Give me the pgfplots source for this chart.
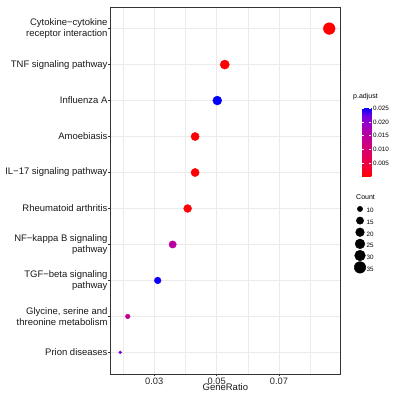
\documentclass[border=0pt]{standalone}
\usepackage{fontspec}
\setmainfont{Liberation Sans}
\usepackage{pgfplots}
\pgfplotsset{compat=1.18}
\usepackage{pgfplotstable}
\definecolor{gridc}{RGB}{235,235,235}
\definecolor{framec}{RGB}{51,51,51}

\pgfplotstableread{
pos gr count p
1 0.0191 8 0.0218
2 0.0215 9 0.0140
3 0.0311 13 0.0250
4 0.0359 15 0.0152
5 0.0407 17 0.0003
6 0.0431 18 0.0004
7 0.0431 18 0.0002
8 0.0502 21 0.0254
9 0.0526 22 0.0003
10 0.0861 36 0.00001
}\datatable

\pgfplotsset{
  sizekey/.style={only marks, mark=*, black, mark size=#1,
    legend image code/.code={%
      \path[draw=none, fill=none] (-5.8pt,-3.2pt) rectangle (5.8pt,7.9pt);
      \path[draw=none, fill=none] plot[mark=*, mark size=#1, mark options={draw=black, fill=black}] coordinates {(0pt,2.35pt)};}},
}

\begin{document}
\begin{tikzpicture}
\begin{axis}[
  name=ax, at={(0,0)}, anchor=south west,
  scale only axis, width=229.3pt, height=367pt,
  xmin=0.01603, xmax=0.08955, ymin=0.4, ymax=10.6,
  scaled x ticks=false,
  xtick={0.03,0.05,0.07}, xticklabels={0.03,0.05,0.07},
  minor xtick={0.02,0.04,0.06,0.08},
  ytick={1,2,3,4,5,6,7,8,9,10},
  yticklabels={{Prion diseases},{Glycine, serine and\\threonine metabolism},{TGF−beta signaling\\pathway},{NF−kappa B signaling\\pathway},{Rheumatoid arthritis},{IL−17 signaling pathway},{Amoebiasis},{Influenza A},{TNF signaling pathway},{Cytokine−cytokine\\receptor interaction}},
  grid=both,
  major grid style={gridc, line width=0.8pt},
  minor grid style={gridc, line width=0.5pt},
  minor tick length=0pt,
  tick align=outside, major tick length=2.2pt,
  tick style={framec, line width=0.6pt},
  xtick pos=left, ytick pos=left,
  axis line style={framec, line width=0.8pt},
  xticklabel style={font=\fontsize{9.3}{10}\selectfont, inner sep=1.3pt, text=black!85},
  yticklabel style={font=\fontsize{9.5}{10.7}\selectfont, align=right, inner sep=0.8pt, text=black!90},
  xlabel={GeneRatio},
  xlabel style={at={(axis description cs:0.5,0)}, anchor=center, yshift=-12.7pt, font=\fontsize{9.5}{10}\selectfont, text=black!90},
  colormap={ggrb}{rgb255=(255,0,0) rgb255=(244,0,49) rgb255=(232,0,79) rgb255=(218,0,108) rgb255=(201,0,136) rgb255=(181,0,165) rgb255=(154,0,195) rgb255=(115,0,224) rgb255=(0,0,255)},
  point meta min=0, point meta max=0.0254,
  colorbar,
  colorbar style={
    at={(parent axis.south east)}, anchor=south west,
    xshift=13.5pt, yshift=197.3pt,
    scale only axis, width=9.3pt, height=69.4pt,
    scaled y ticks=false,
    ytick={0.005,0.010,0.015,0.020,0.025},
    yticklabels={0.005,0.010,0.015,0.020,0.025},
    ytick pos=both, yticklabel pos=right,
    tick align=inside, major tick length=2pt,
    tick style={white, line width=0.6pt},
    axis line style={draw=none},
    yticklabel style={font=\fontsize{6.3}{7}\selectfont, inner sep=1.5pt},
    title={p.adjust},
    title style={at={(0,1)}, anchor=south west, xshift=-10pt, inner sep=1pt, font=\fontsize{7}{8}\selectfont},
  },
  legend style={at={(1.0611,0.4654)}, anchor=north west, draw=none, fill=none,
    inner sep=0pt, row sep=0pt, column sep=0pt,
    nodes={inner sep=0.8pt},
    font=\fontsize{6.3}{7}\selectfont, cells={anchor=west}},
]
\addplot[scatter, only marks, mark=*, scatter src=explicit, forget plot,
  visualization depends on={0.63+0.87*(1+5*sqrt((\thisrow{count}-8)/28)) \as \ms},
  scatter/use mapped color={draw=mapped color, fill=mapped color},
  scatter/@pre marker code/.append style={/tikz/mark size=\ms pt}]
  table[x=gr, y=pos, meta=p] {\datatable};
\addlegendimage{sizekey=2.66pt}\addlegendentry{10}
\addlegendimage{sizekey=3.68pt}\addlegendentry{15}
\addlegendimage{sizekey=4.35pt}\addlegendentry{20}
\addlegendimage{sizekey=4.89pt}\addlegendentry{25}
\addlegendimage{sizekey=5.36pt}\addlegendentry{30}
\addlegendimage{sizekey=5.77pt}\addlegendentry{35}
\end{axis}
\node[anchor=west, inner sep=0pt, font=\fontsize{7}{8}\selectfont] at ([xshift=245.3pt,yshift=177pt]ax.south west) {Count};
\pgfresetboundingbox
\path ([xshift=-110.7pt,yshift=-20pt]ax.south west) rectangle ([xshift=281.3pt,yshift=374pt]ax.south west);
\end{tikzpicture}
\end{document}
